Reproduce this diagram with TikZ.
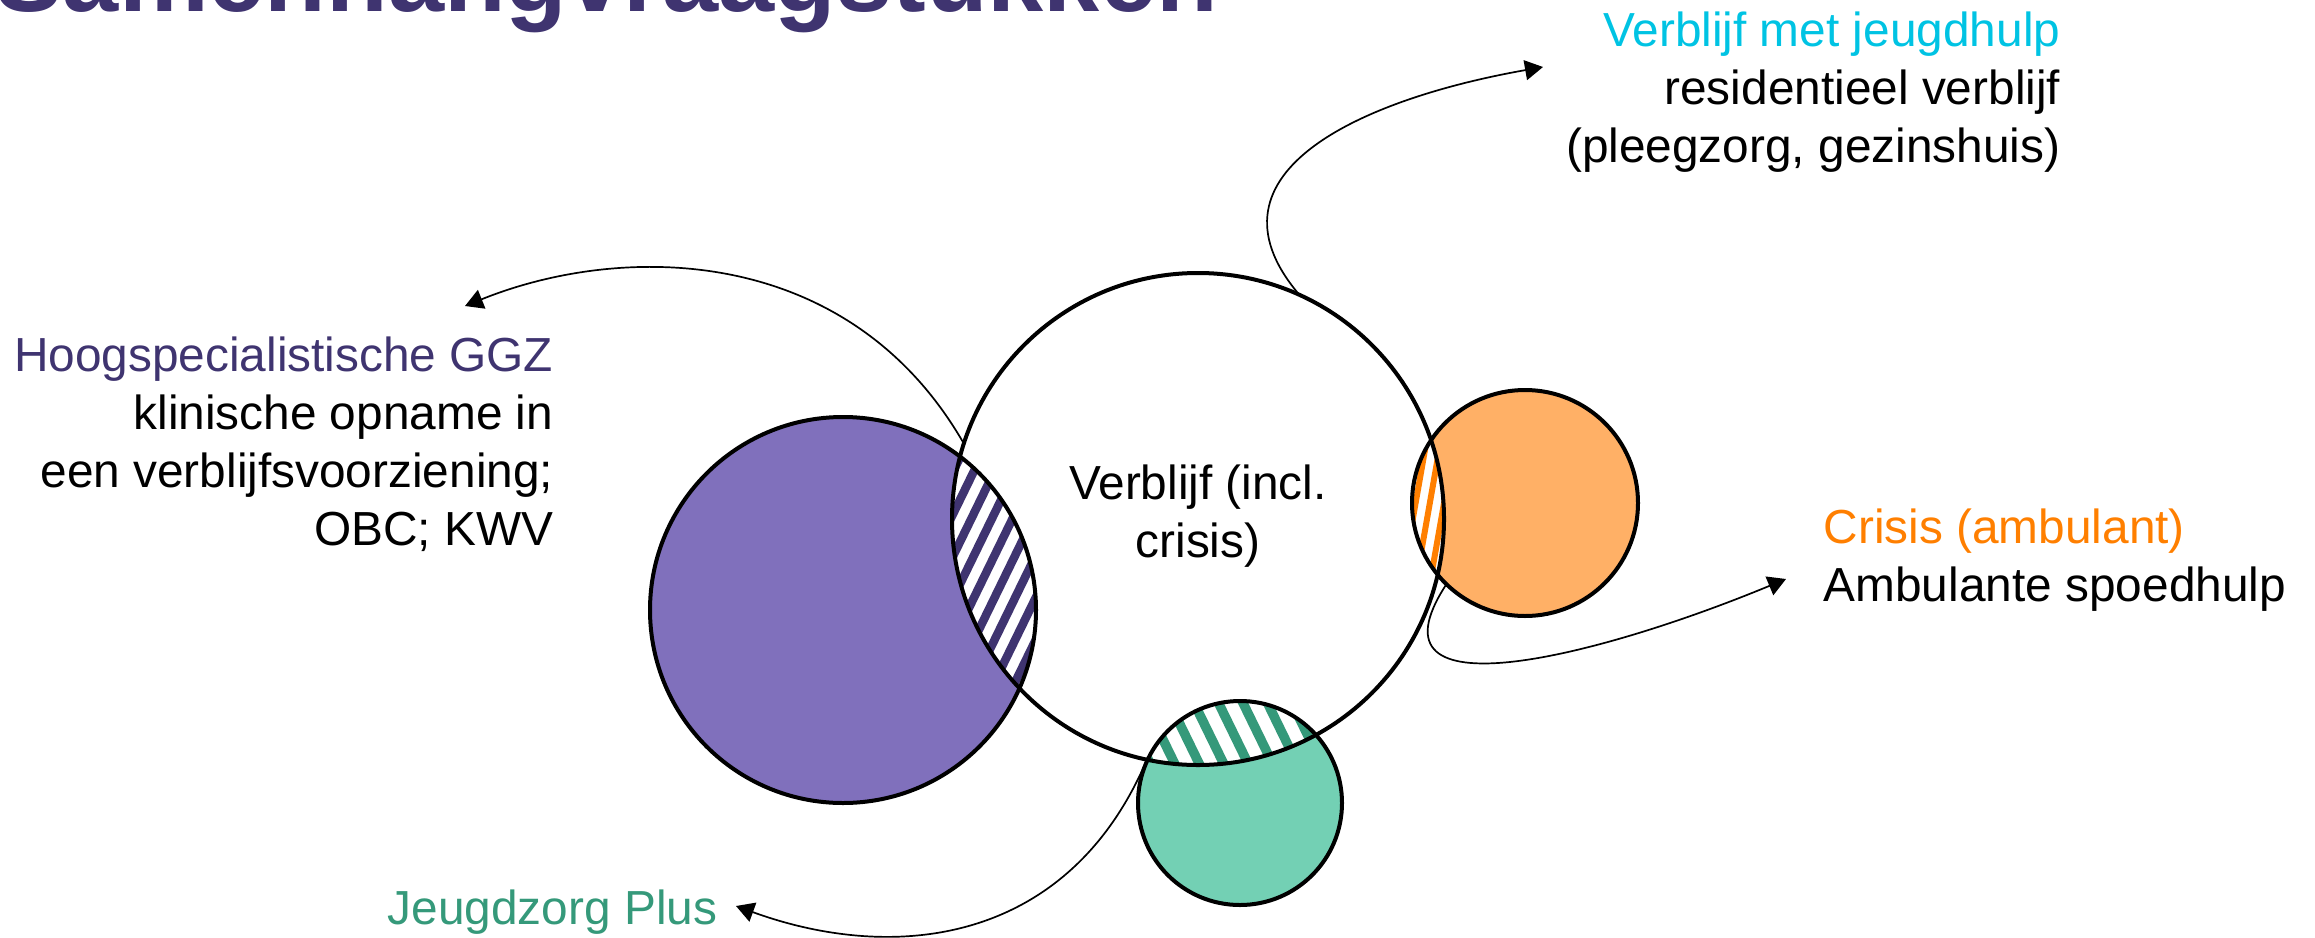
\documentclass[tikz,border=0pt]{standalone}
\usepackage{fontspec}
\setmainfont{Liberation Sans}
\usetikzlibrary{arrows.meta}

\definecolor{ggzdonker}{HTML}{3F3470}
\definecolor{ggzvul}{HTML}{8070BC}
\definecolor{vmjblauw}{HTML}{00C3E3}
\definecolor{crisisoranje}{HTML}{FF7F00}
\definecolor{crisisvul}{HTML}{FFB066}
\definecolor{jzpgroen}{HTML}{35997A}
\definecolor{jzpvul}{HTML}{73D0B4}

\newcommand{\tekst}{\fontsize{13.6}{16.5}\selectfont}
\newcommand{\titel}{\fontsize{28.7}{30}\selectfont\bfseries}
\newcommand{\zorgcirkel}[4]{%
  \node[circle,fill=#4,minimum size=#3,inner sep=0pt] (#1) at (#2) {};
}

\begin{document}
\begin{tikzpicture}[rand/.style={draw,line width=0.4mm},
  pijl/.style={-{Triangle[length=1.8mm,width=2mm]},line width=0.17mm},
  lbl/.style={inner sep=0pt,font=\tekst}]
  \useasboundingbox (0,0) rectangle (23.15,9.37);

  \node[anchor=base west,inner sep=0pt,font=\titel,text=ggzdonker] (titel) at (-0.05,9.26) {Samenhangvraagstukken};

  \zorgcirkel{ggz}{8.43,3.27}{3.86cm}{ggzvul}
  \zorgcirkel{verblijf}{11.98,4.18}{4.92cm}{none}
  \zorgcirkel{crisis}{15.25,4.34}{2.26cm}{crisisvul}
  \zorgcirkel{jzplus}{12.40,1.34}{2.04cm}{jzpvul}

  % overlap ggz / verblijf
  \begin{scope}
    \clip (ggz.center) circle (1.93);
    \clip (verblijf.center) circle (2.46);
    \fill[white] (9,1) rectangle (11,6);
    \begin{scope}[shift={(9.9,3.3)},rotate=-26]
      \foreach \i in {-10,...,10}
        \draw[ggzdonker,line width=0.85mm] (\i*0.185,-2.5) -- (\i*0.185,2.5);
    \end{scope}
  \end{scope}

  % overlap crisis / verblijf
  \begin{scope}
    \clip (crisis.center) circle (1.13);
    \clip (verblijf.center) circle (2.46);
    \fill[white] (13.5,3) rectangle (15,6);
    \begin{scope}[shift={(14.3,4.35)},rotate=-10]
      \foreach \i in {-8,...,8}
        \draw[crisisoranje,line width=0.6mm] (\i*0.14,-1.5) -- (\i*0.14,1.5);
    \end{scope}
  \end{scope}

  % overlap jeugdzorg plus / verblijf
  \begin{scope}
    \clip (jzplus.center) circle (1.02);
    \clip (verblijf.center) circle (2.46);
    \fill[white] (11,1) rectangle (14,3);
    \begin{scope}[shift={(12.4,1.9)},rotate=26]
      \foreach \i in {-9,...,9}
        \draw[jzpgroen,line width=0.95mm] (\i*0.22,-1.5) -- (\i*0.22,1.5);
    \end{scope}
  \end{scope}

  \draw[rand] (ggz.center) circle (1.93);
  \draw[rand] (verblijf.center) circle (2.46);
  \draw[rand] (crisis.center) circle (1.13);
  \draw[rand] (jzplus.center) circle (1.02);

  \coordinate (pijlggz) at (4.65,6.31);
  \coordinate (pijlvmj) at (15.43,8.70);
  \coordinate (pijlcrisis) at (17.86,3.58);
  \coordinate (pijljzp) at (7.36,0.31);

  \draw[pijl] (verblijf.162) .. controls +(120:2.3) and +(22:1.7) .. (pijlggz);
  \draw[pijl] (verblijf.66) .. controls +(130:1.6) and +(190:1.8) .. (pijlvmj);
  \draw[pijl] (crisis.226) .. controls +(237:1.6) and +(202.5:2.0) .. (pijlcrisis);
  \draw[pijl] (jzplus.155) .. controls +(247:2.0) and +(340:1.7) .. (pijljzp);

  \node[lbl,anchor=base,align=center] (verblijftekst) at (11.98,3.80) {Verblijf (incl.\\crisis)};
  \node[lbl,anchor=base east,align=right] (ggztekst) at (5.54,3.92)
    {\textcolor{ggzdonker}{Hoogspecialistische GGZ}\\klinische opname in\\een verblijfsvoorziening;\\OBC; KWV};
  \node[lbl,anchor=base east,align=right] (vmjtekst) at (20.61,7.75)
    {\textcolor{vmjblauw}{Verblijf met jeugdhulp}\\residentieel verblijf\\(pleegzorg, gezinshuis)};
  \node[lbl,anchor=base west,align=left] (crisistekst) at (18.23,3.36)
    {\textcolor{crisisoranje}{Crisis (ambulant)}\\Ambulante spoedhulp};
  \node[lbl,anchor=base west,text=jzpgroen] (jzptekst) at (3.87,0.13) {Jeugdzorg Plus};
\end{tikzpicture}
\end{document}
